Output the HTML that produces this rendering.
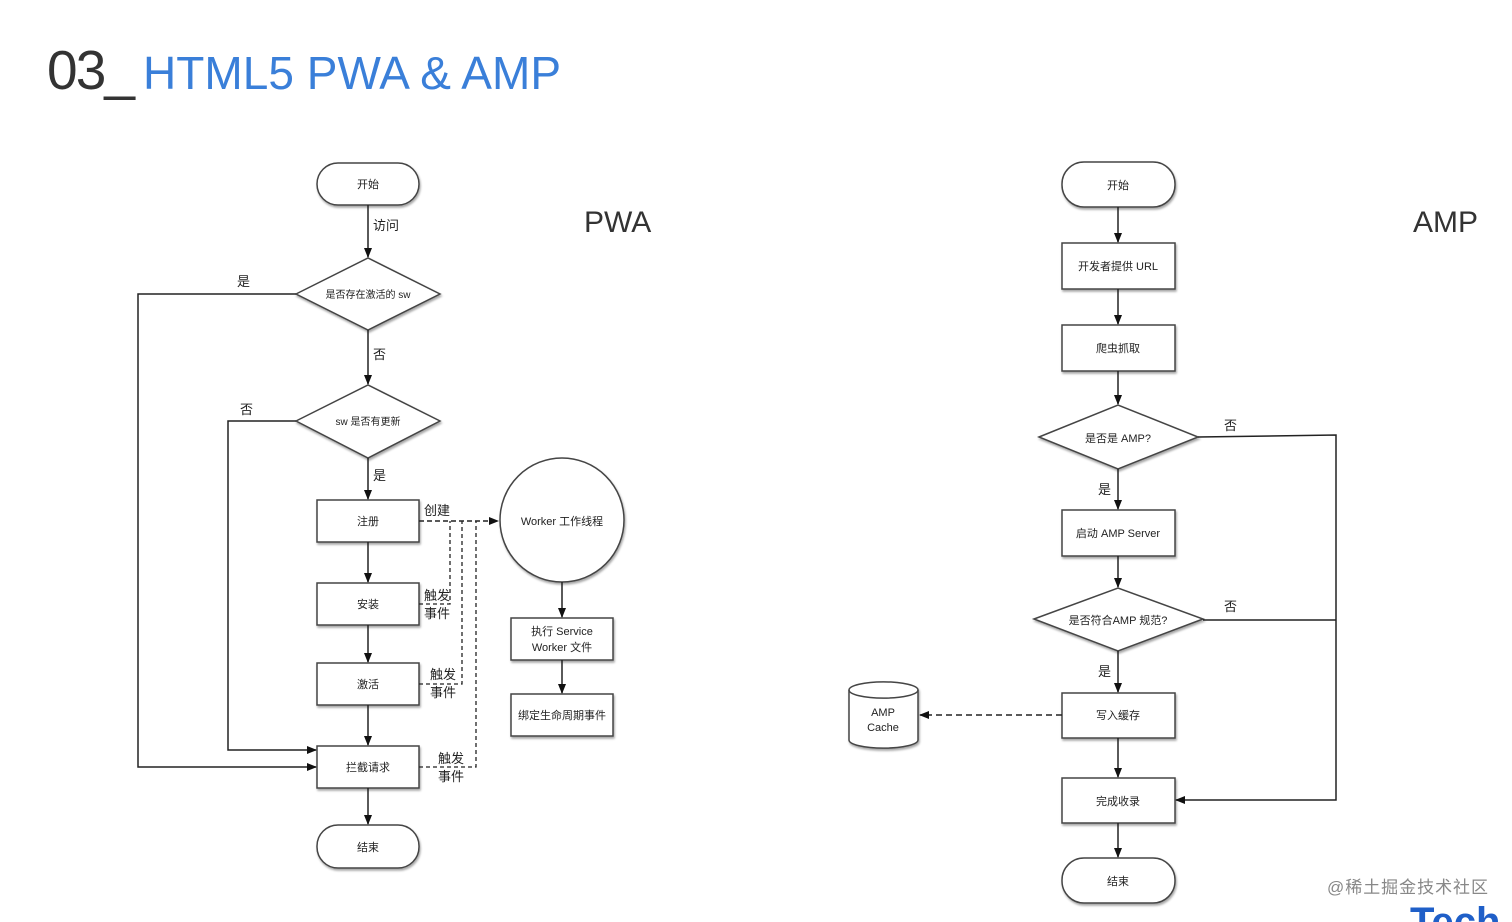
<!DOCTYPE html>
<html><head><meta charset="utf-8"><style>
html,body{margin:0;padding:0;background:#fff;}
svg{display:block;}
text{font-family:"Liberation Sans","Noto Sans CJK SC",sans-serif;}
</style></head><body>
<svg width="1512" height="922" viewBox="0 0 1512 922" xmlns="http://www.w3.org/2000/svg">
<defs>
<marker id="a" markerWidth="10" markerHeight="8" refX="9" refY="4" orient="auto" markerUnits="userSpaceOnUse"><path d="M0,0 L10,4 L0,8 z" fill="#111"/></marker>
<filter id="sh" x="-10%" y="-10%" width="130%" height="140%"><feDropShadow dx="1" dy="2" stdDeviation="1" flood-color="#000" flood-opacity="0.35"/></filter>
</defs>
<text x="47" y="89" font-size="55" fill="#333" textLength="88">03_</text>
<text x="143" y="89" font-size="46" fill="#3a7fd9" textLength="418">HTML5 PWA &amp; AMP</text>
<text x="584" y="232" font-size="30" fill="#333">PWA</text>
<text x="1413" y="232" font-size="30" fill="#333">AMP</text>

<g stroke="#444" stroke-width="1.5" fill="#fff" filter="url(#sh)">
<rect x="317" y="163" width="102" height="42" rx="21"/>
<polygon points="296,294 368,258 440,294 368,330"/>
<polygon points="296,421 368,385 440,421 368,458"/>
<rect x="317" y="500" width="102" height="42"/>
<rect x="317" y="583" width="102" height="42"/>
<rect x="317" y="663" width="102" height="42"/>
<rect x="317" y="746" width="102" height="42"/>
<rect x="317" y="825" width="102" height="43" rx="21"/>
<circle cx="562" cy="520" r="62"/>
<rect x="511" y="618" width="102" height="42"/>
<rect x="511" y="694" width="102" height="42"/>

<rect x="1062" y="162" width="113" height="45" rx="22"/>
<rect x="1062" y="243" width="113" height="46"/>
<rect x="1062" y="325" width="113" height="46"/>
<polygon points="1039,437 1118,405 1198,437 1118,469"/>
<rect x="1062" y="510" width="113" height="46"/>
<polygon points="1034,619 1118,588 1203,619 1118,651"/>
<rect x="1062" y="693" width="113" height="45"/>
<rect x="1062" y="778" width="113" height="45"/>
<rect x="1062" y="858" width="113" height="45" rx="22"/>
<path d="M849,690 A34,8 0 0 1 918,690 L918,740 A34,8 0 0 1 849,740 Z"/>
</g>
<path d="M849,690 A34,8 0 0 0 918,690" stroke="#444" stroke-width="1.5" fill="none"/>

<g stroke="#222" stroke-width="1.5" fill="none" marker-end="url(#a)">
<line x1="368" y1="205" x2="368" y2="257"/>
<line x1="368" y1="330" x2="368" y2="384"/>
<line x1="368" y1="458" x2="368" y2="499"/>
<line x1="368" y1="542" x2="368" y2="582"/>
<line x1="368" y1="625" x2="368" y2="662"/>
<line x1="368" y1="705" x2="368" y2="745"/>
<line x1="368" y1="788" x2="368" y2="824"/>
<polyline points="296,294 138,294 138,767 316,767"/>
<polyline points="296,421 228,421 228,750 316,750"/>
<line x1="562" y1="582" x2="562" y2="617"/>
<line x1="562" y1="660" x2="562" y2="693"/>

<line x1="1118" y1="207" x2="1118" y2="242"/>
<line x1="1118" y1="289" x2="1118" y2="324"/>
<line x1="1118" y1="371" x2="1118" y2="404"/>
<line x1="1118" y1="469" x2="1118" y2="509"/>
<line x1="1118" y1="556" x2="1118" y2="587"/>
<line x1="1118" y1="651" x2="1118" y2="692"/>
<line x1="1118" y1="738" x2="1118" y2="777"/>
<line x1="1118" y1="823" x2="1118" y2="857"/>
<polyline points="1198,437 1336,435 1336,800 1176,800"/>
<line x1="1336" y1="620" x2="1203" y2="620" marker-end="none"/>
<line x1="1062" y1="715" x2="920" y2="715" stroke-dasharray="6,4"/>
<line x1="419" y1="521" x2="498" y2="521" stroke-dasharray="5,3"/>
</g>
<g stroke="#222" stroke-width="1.3" fill="none" stroke-dasharray="4,3">
<polyline points="419,604 450,604 450,521"/>
<polyline points="419,684 462,684 462,521"/>
<polyline points="419,767 476,767 476,521"/>
</g>

<g font-size="11" fill="#222" text-anchor="middle">
<text x="368" y="188">开始</text>
<text x="368" y="298" font-size="10">是否存在激活的 sw</text>
<text x="368" y="425" font-size="10">sw 是否有更新</text>
<text x="368" y="525">注册</text>
<text x="368" y="608">安装</text>
<text x="368" y="688">激活</text>
<text x="368" y="771">拦截请求</text>
<text x="368" y="851">结束</text>
<text x="562" y="525">Worker 工作线程</text>
<text x="562" y="635">执行 Service</text>
<text x="562" y="651">Worker 文件</text>
<text x="562" y="719">绑定生命周期事件</text>

<text x="1118" y="189">开始</text>
<text x="1118" y="270">开发者提供 URL</text>
<text x="1118" y="352">爬虫抓取</text>
<text x="1118" y="442">是否是 AMP?</text>
<text x="1118" y="537">启动 AMP Server</text>
<text x="1118" y="624">是否符合AMP 规范?</text>
<text x="1118" y="719">写入缓存</text>
<text x="1118" y="805">完成收录</text>
<text x="1118" y="885">结束</text>
<text x="883" y="716">AMP</text>
<text x="883" y="731">Cache</text>
</g>
<g font-size="13" fill="#222">
<text x="373" y="230">访问</text>
<text x="237" y="286">是</text>
<text x="373" y="359">否</text>
<text x="240" y="414">否</text>
<text x="373" y="480">是</text>
<text x="424" y="515">创建</text>
<text x="424" y="600">触发</text>
<text x="424" y="618">事件</text>
<text x="430" y="679">触发</text>
<text x="430" y="697">事件</text>
<text x="438" y="763">触发</text>
<text x="438" y="781">事件</text>
<text x="1098" y="494">是</text>
<text x="1098" y="676">是</text>
<text x="1224" y="430">否</text>
<text x="1224" y="611">否</text>
</g>
<text x="1327" y="893" font-size="17" fill="#888" textLength="161">@稀土掘金技术社区</text>
<text x="1410" y="935" font-size="40" font-weight="bold" fill="#1f5fc8">Tech</text>
</svg>
</body></html>
